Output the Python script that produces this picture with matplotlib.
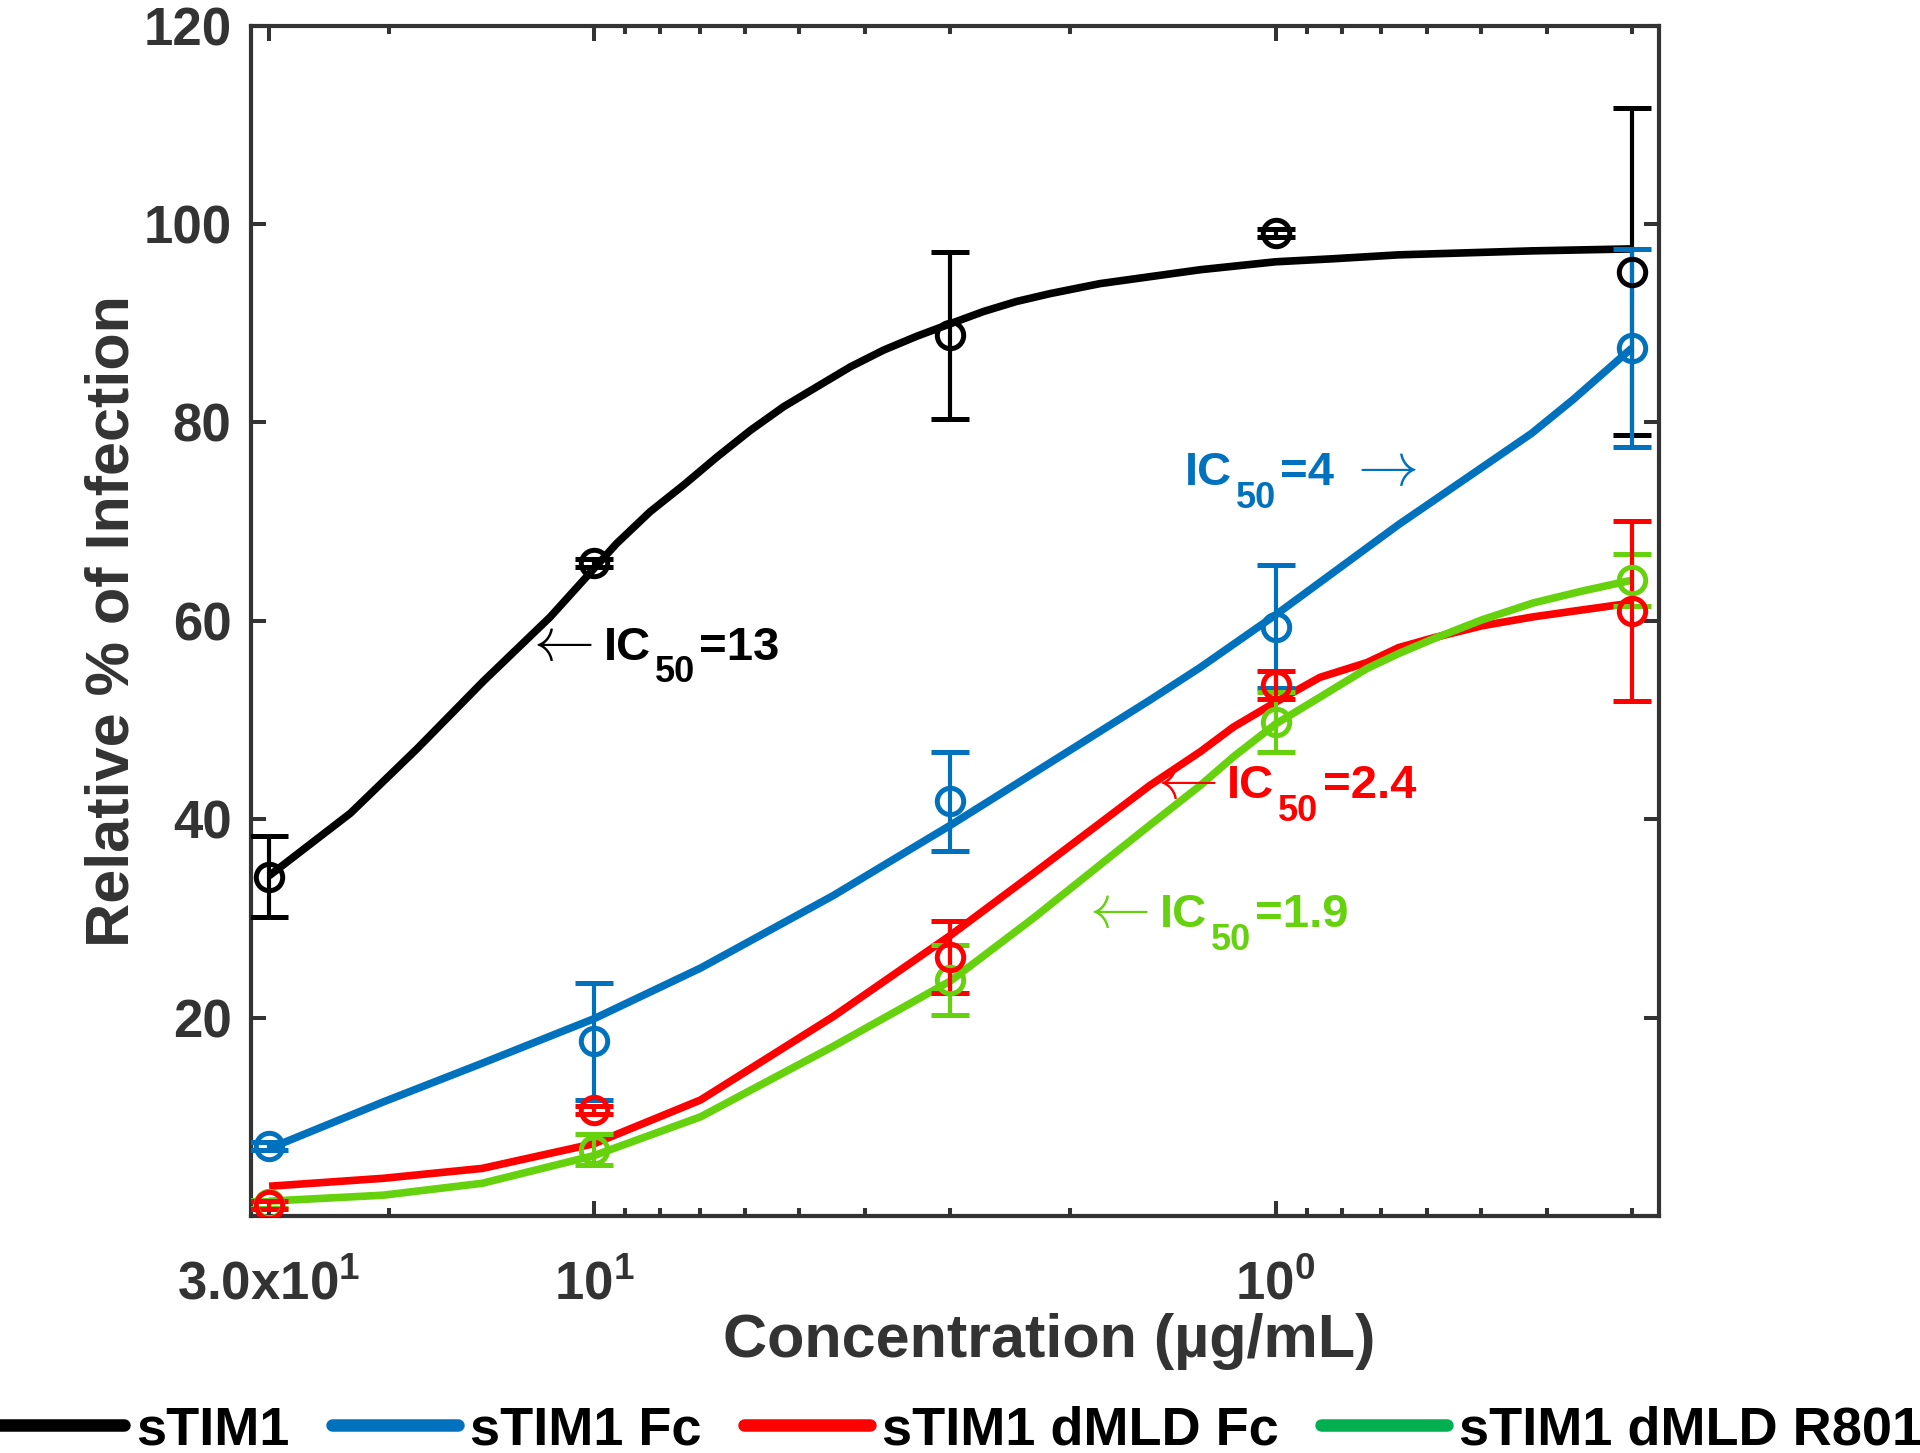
import matplotlib
matplotlib.use("Agg")
import matplotlib.pyplot as plt
from matplotlib.lines import Line2D
from matplotlib.ticker import FixedLocator, FixedFormatter, LogLocator, NullFormatter

plt.rcParams["font.family"] = ["Liberation Sans", "DejaVu Sans"]
plt.rcParams["font.weight"] = "bold"
plt.rcParams["mathtext.default"] = "regular"
plt.rcParams["mathtext.fontset"] = "cm"

# concentration (ug/mL) of the measured points
conc = [30, 10, 3, 1, 0.3]

names = ["sTIM1", "sTIM1 Fc", "sTIM1 dMLD Fc", "sTIM1 dMLD R801"]

# measured relative infection (%) and error
stim1_mean = [34.2, 65.8, 88.8, 99.1, 95.2]
stim1_err = [4.1, 0.4, 8.4, 0.4, 16.5]
fc_mean = [7.1, 17.6, 41.8, 59.4, 87.5]
fc_err = [0.4, 5.9, 5.0, 6.2, 10.0]
dmld_fc_mean = [1.1, 10.7, 26.1, 53.5, 61.0]
dmld_fc_err = [0.4, 0.4, 3.6, 1.4, 9.1]
r801_mean = [1.2, 6.7, 23.8, 49.8, 64.1]
r801_err = [0.4, 1.6, 3.5, 3.0, 2.6]

# fitted dose-response curves
stim1_fit_x = [30, 22.8, 18.2, 14.55, 11.6, 10, 9.27, 8.28, 7.39, 6.61, 5.90,
               5.27, 4.71, 4.21, 3.76, 3.36, 2.99, 2.68, 2.40, 2.14, 1.81,
               1.29, 1.0, 0.826, 0.66, 0.527, 0.421, 0.3]
stim1_fit_y = [34.3, 40.6, 47.1, 53.9, 60.4, 65.3, 67.8, 71.0, 73.7, 76.5, 79.2,
               81.6, 83.6, 85.6, 87.3, 88.7, 90.0, 91.2, 92.2, 93.0, 94.0,
               95.4, 96.2, 96.5, 96.9, 97.1, 97.3, 97.5]
fc_fit_x = [30, 20.4, 14.6, 10, 6.98, 4.46, 3.0, 1.53, 1.29, 1.0, 0.66,
            0.527, 0.421, 0.366, 0.3]
fc_fit_y = [6.8, 11.5, 15.4, 19.9, 25.0, 32.3, 39.4, 52.0, 55.3, 60.6, 69.7,
            74.3, 78.9, 82.3, 87.5]
dmld_fc_fit_x = [30, 20.4, 14.6, 10, 6.98, 4.46, 3.0, 2.27, 1.53, 1.29, 1.153,
                 1.0, 0.861, 0.734, 0.66, 0.586, 0.498, 0.419, 0.355, 0.3]
dmld_fc_fit_y = [3.0, 3.8, 4.8, 7.3, 11.7, 20.1, 28.3, 34.5, 43.4, 46.8, 49.3,
                 51.8, 54.3, 55.8, 57.3, 58.3, 59.5, 60.4, 61.1, 61.8]
r801_fit_x = [30, 20.4, 14.6, 10, 6.98, 4.46, 3.0, 2.27, 1.53, 1.29, 1.153,
              1.0, 0.861, 0.734, 0.66, 0.586, 0.498, 0.419, 0.355, 0.3]
r801_fit_y = [1.5, 2.1, 3.3, 6.1, 10.0, 17.1, 23.7, 30.0, 39.4, 43.4, 46.3,
              49.6, 52.3, 55.2, 56.7, 58.2, 60.1, 61.8, 63.0, 64.1]

plot_colors = ["#000000", "#0072BD", "#FF0000", "#66D20E"]
legend_colors = ["#000000", "#0072BD", "#FF0000", "#00B050"]

x_ticks = [30, 10, 1]
x_ticklabels = [r"3.0x$10^{1}$", r"$10^{1}$", r"$10^{0}$"]
y_ticks = [20, 40, 60, 80, 100, 120]

# IC50 labels: value text, arrow side, anchor (conc, %)
ic50_values = ["=13", "=4", "=2.4", "=1.9"]
ic50_arrow = ["left", "right", "left", "left"]
ic50_x = [12.7, 1.36, 1.545, 1.94]
ic50_y = [56.1, 73.7, 42.1, 29.1]

axis_color = "#333333"


def ic50_label(ax, x, y, value, side, color):
    # pieces: text, size, gap before (pt), vertical offset (pt)
    if side == "left":
        pieces = [(r"$\mathrm{\leftarrow}$", 44, 0, 0), ("IC", 34, 7, 0)]
    else:
        pieces = [("IC", 34, 0, 0)]
    pieces += [("50", 26, 3, -16.5), (value, 34, 3, 0)]
    if side == "right":
        pieces.append((r"$\mathrm{\rightarrow}$", 44, 9, 0))
    prev = None
    for s, size, gap, dy in pieces:
        if prev is None:
            prev = ax.annotate(s, xy=(x, y), xycoords="data", xytext=(0, dy),
                               textcoords="offset points", fontsize=size,
                               color=color, ha="left", va="baseline", zorder=4)
        else:
            prev = ax.annotate(s, xy=(1, y), xycoords=(prev, "data"),
                               xytext=(gap, dy), textcoords="offset points",
                               fontsize=size, color=color, ha="left",
                               va="baseline", zorder=4)


fig = plt.figure(figsize=(19.2, 14.53), dpi=100)
ax = fig.add_axes([0.1307, 0.1631, 0.7333, 0.8192])

fits = [(stim1_fit_x, stim1_fit_y), (fc_fit_x, fc_fit_y),
        (dmld_fc_fit_x, dmld_fc_fit_y), (r801_fit_x, r801_fit_y)]
for (fx, fy), col in zip(fits, plot_colors):
    ax.plot(fx, fy, color=col, lw=5.5, zorder=2, solid_joinstyle="round",
            solid_capstyle="butt")

points = [(stim1_mean, stim1_err), (fc_mean, fc_err),
          (dmld_fc_mean, dmld_fc_err), (r801_mean, r801_err)]
for i in [0, 1, 3, 2]:
    m, e = points[i]
    ax.errorbar(conc, m, yerr=e, fmt="o", color=plot_colors[i], mfc="none",
                ms=19, mew=3.6, elinewidth=3.0, capsize=13.5, capthick=3.8,
                zorder=3)

for val, side, tx, ty, col in zip(ic50_values, ic50_arrow, ic50_x, ic50_y, plot_colors):
    ic50_label(ax, tx, ty, val, side, col)

ax.set_xscale("log")
ax.set_xlim(31.9, 0.2738)
ax.set_ylim(0, 120)
ax.xaxis.set_major_locator(FixedLocator(x_ticks))
ax.xaxis.set_major_formatter(FixedFormatter(x_ticklabels))
ax.xaxis.set_minor_locator(LogLocator(base=10, subs=range(2, 10)))
ax.xaxis.set_minor_formatter(NullFormatter())
ax.set_yticks(y_ticks)

ax.tick_params(which="both", direction="in", top=True, right=True,
               width=2.9, color=axis_color, labelcolor=axis_color)
ax.tick_params(which="major", length=10.5, labelsize=38)
ax.tick_params(which="minor", length=5.5)
ax.tick_params(axis="x", pad=32)
ax.tick_params(axis="y", pad=14)
for sp in ax.spines.values():
    sp.set_linewidth(3)
    sp.set_color(axis_color)

ax.set_xlabel("Concentration (µg/mL)", fontsize=44, fontweight="bold",
              color=axis_color, labelpad=2, x=0.567)
ax.set_ylabel("Relative % of Infection", fontsize=44, fontweight="bold",
              color=axis_color, labelpad=1)

handles = [Line2D([], [], color=c, lw=9, solid_capstyle="round") for c in legend_colors]
fig.legend(handles, names, loc="lower center", bbox_to_anchor=(0.5, -0.009),
           ncol=4, frameon=False, fontsize=39, handlelength=2.33,
           handletextpad=0.22, columnspacing=0.78, borderaxespad=0.0,
           borderpad=0.2)

fig.savefig("out.png", dpi=100)
